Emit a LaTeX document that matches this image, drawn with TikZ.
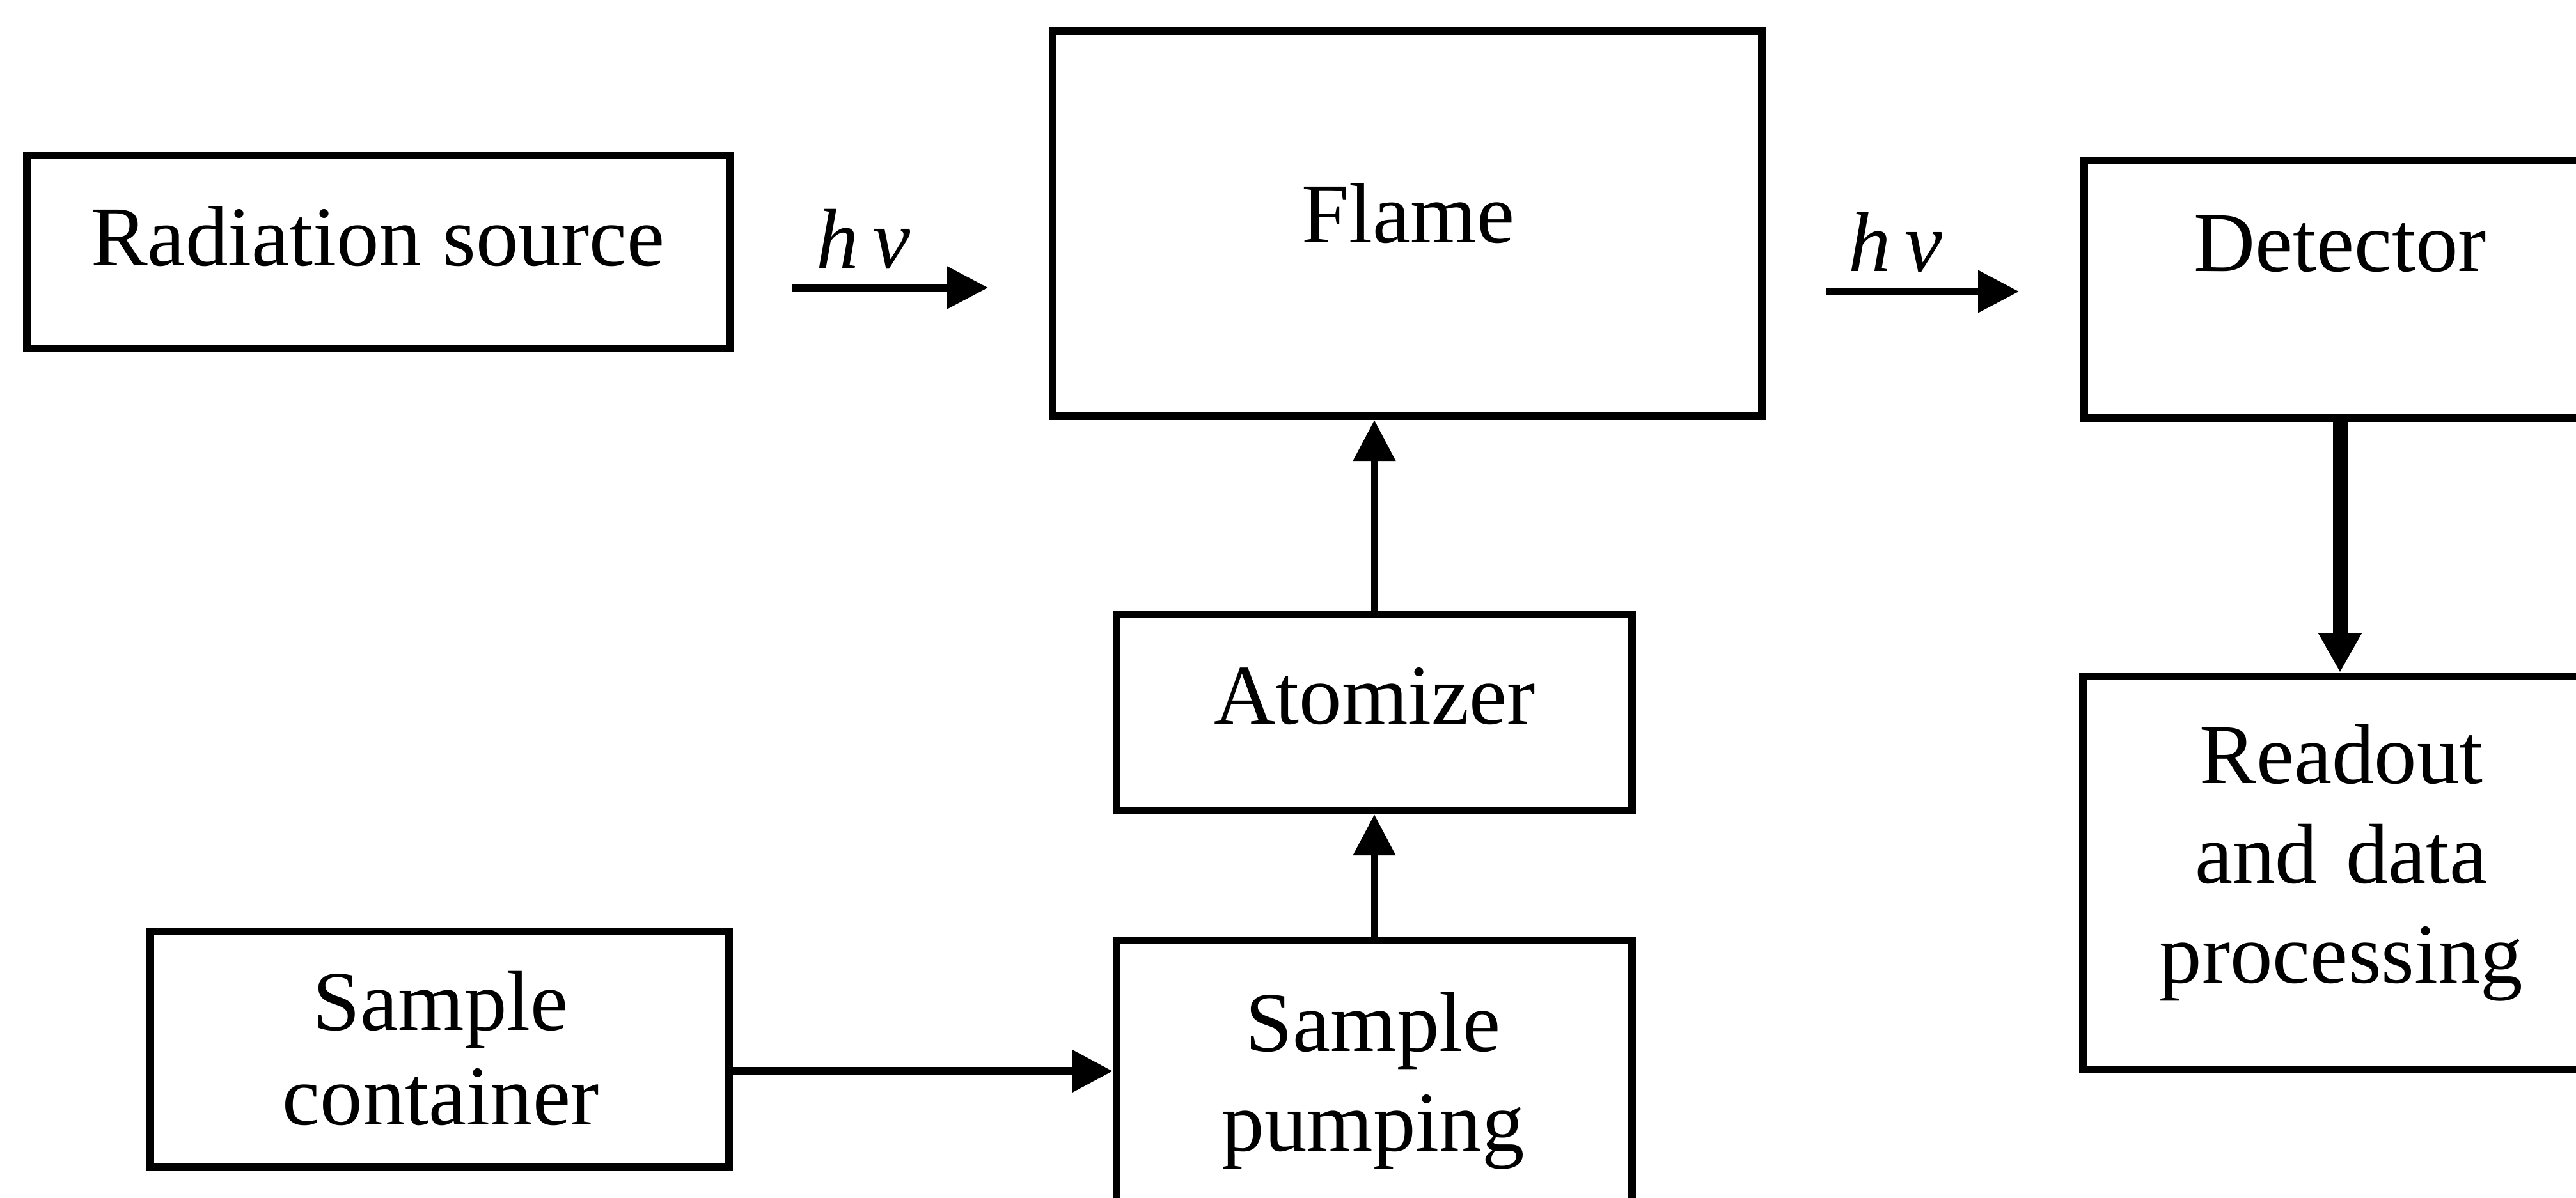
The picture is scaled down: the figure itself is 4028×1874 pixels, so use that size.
\documentclass[tikz,border=0pt]{standalone}
\usepackage{fontspec}
\setmainfont{Liberation Serif}
\usetikzlibrary{arrows.meta,fit}
\begin{document}
\begin{tikzpicture}[x=0.25pt,y=-0.25pt,
  box/.style={draw, line width=3pt, inner sep=0pt, rectangle},
  lbl/.style={font=\fontsize{33.25}{39}\selectfont, inner sep=0pt, anchor=base, align=center},
  mlbl/.style={lbl, text width=300pt},
  arr/.style={line width=2.75pt, -{Triangle[length=16pt,width=16pt]}},
  thickarr/.style={line width=5.75pt, -{Triangle[length=15.5pt,width=16pt]}}]
\useasboundingbox (0,0) rectangle (4028,1874);
\clip (0,0) rectangle (4028,1874);
% boxes
\node[box, fit={(42,243) (1142,545)}] (rad) {};
\node[box, fit={(1646,48) (2755,651)}] (flame) {};
\node[box, fit={(3259,251) (4059,654)}] (det) {};
\node[box, fit={(3257,1058) (4065,1673)}] (ro) {};
\node[box, fit={(1746,961) (2552,1268)}] (atom) {};
\node[box, fit={(1746,1471) (2552,1880)}] (pump) {};
\node[box, fit={(235,1457) (1140,1825)}] (cont) {};
% texts
\node[lbl] (trad) at (591,415) {Radiation source};
\node[lbl] (tflame) at (2202,379) {Flame};
\node[lbl] (tdet) at (3659,424) {Detector};
\node[lbl] (tatom) at (2150,1132) {Atomizer};
\node[mlbl] (tcont) at (689,1611) {Sample\\[-2pt]container};
\node[mlbl] (tpump) at (2147,1644) {Sample\\pumping};
\node[mlbl] (tro) at (3661,1225) {Readout\\and data\\processing};
\node[lbl] (hv1) at (1350,419) {\itshape h\,ν};
\node[lbl] (hv2) at (2964,424) {\itshape h\,ν};
% free arrow ends
\coordinate (a1s) at (1239,450);
\coordinate (a1e) at (1545,450);
\coordinate (a2s) at (2855,456);
\coordinate (a2e) at (3157,456);
% connectors
\draw[arr] (a1s) -- (a1e);
\draw[arr] (a2s) -- (a2e);
\draw[arr] (atom.north) -- (atom.north |- flame.south);
\draw[arr] (pump.north) -- (atom.south);
\draw[arr, line width=3.25pt] (cont.east |- pump.west) -- (pump.west);
\draw[thickarr] (det.south) -- (det.south |- ro.north);
\end{tikzpicture}
\end{document}
